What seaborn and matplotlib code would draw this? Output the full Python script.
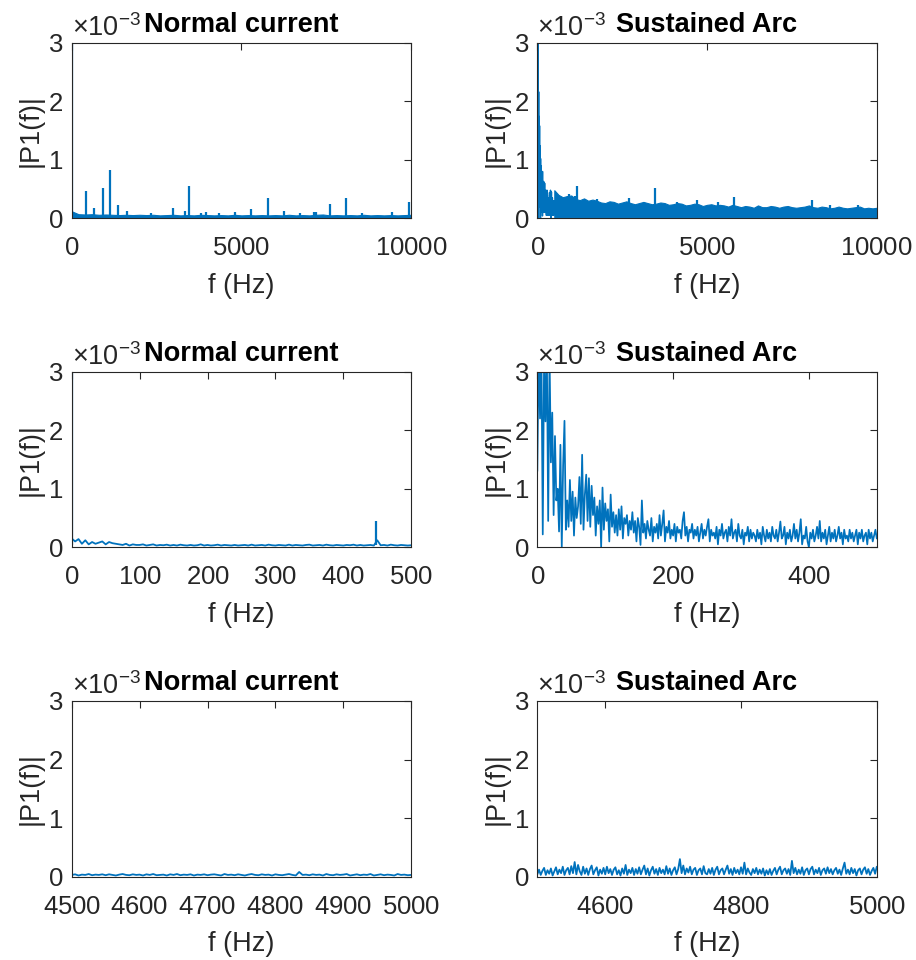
import numpy as np
import pandas as pd
import matplotlib
matplotlib.use("Agg")
import matplotlib.pyplot as plt
import seaborn as sns
from matplotlib.ticker import ScalarFormatter

# ---------------- data (amplitudes in units of 1e-3) ----------------
# Normal current, 0-10000 Hz: upper edge of the low noise floor (every 200 Hz)
normal_full_floor = [0.12, 0.07, 0.065, 0.07, 0.06, 0.065, 0.06, 0.055, 0.06, 0.055,
                     0.06, 0.055, 0.06, 0.05, 0.055, 0.06, 0.05, 0.055, 0.05, 0.06,
                     0.055, 0.05, 0.055, 0.05, 0.06, 0.05, 0.055, 0.05, 0.055, 0.05,
                     0.055, 0.05, 0.06, 0.05, 0.055, 0.05, 0.06, 0.065, 0.05, 0.055,
                     0.05, 0.055, 0.05, 0.06, 0.05, 0.055, 0.05, 0.055, 0.05, 0.055, 0.06]
normal_full_peak_f = [0, 433, 669, 914, 1141, 1357, 1622, 2330, 2989, 3333, 3451, 3805, 3943,
                      4336, 4808, 5290, 5772, 6254, 6726, 7149, 7200, 7611, 8083, 8564,
                      9440, 9921]
normal_full_peak_a = [3.2, 0.47, 0.18, 0.52, 0.83, 0.23, 0.12, 0.085, 0.17, 0.13, 0.56, 0.085, 0.11,
                      0.085, 0.10, 0.16, 0.35, 0.125, 0.09, 0.10, 0.10, 0.25, 0.35, 0.09,
                      0.10, 0.28]

# Sustained arc, 0-500 Hz (every 2 Hz)
arc_low = [1.30, 3.40, 2.20, 3.40, 0.22, 3.30, 2.15, 3.40, 0.45, 3.30,
           1.45, 2.30, 0.55, 1.90, 0.80, 1.00, 0.27, 1.75, 0.00, 1.40,
           2.16, 0.30, 0.80, 0.35, 1.15, 0.45, 0.95, 0.20, 0.85, 0.50,
           0.70, 1.20, 0.40, 1.58, 0.30, 0.90, 1.24, 0.45, 1.18, 0.35,
           1.05, 0.55, 0.85, 0.20, 0.70, 0.40, 0.80, 0.00, 1.02, 0.30,
           0.75, 0.45, 0.65, 0.10, 0.90, 0.35, 0.60, 0.25, 0.55, 0.20,
           0.65, 0.30, 0.70, 0.15, 0.50, 0.40, 0.55, 0.20, 0.45, 0.30,
           0.60, 0.25, 0.45, 0.10, 0.50, 0.35, 0.04, 0.80, 0.25, 0.40,
           0.15, 0.45, 0.30, 0.20, 0.50, 0.10, 0.35, 0.25, 0.40, 0.15,
           0.55, 0.20, 0.40, 0.63, 0.10, 0.35, 0.25, 0.45, 0.15, 0.30,
           0.20, 0.40, 0.10, 0.35, 0.25, 0.30, 0.15, 0.45, 0.60, 0.20,
           0.35, 0.10, 0.30, 0.25, 0.40, 0.15, 0.30, 0.20, 0.35, 0.10,
           0.25, 0.40, 0.15, 0.30, 0.20, 0.35, 0.48, 0.10, 0.30, 0.20,
           0.25, 0.15, 0.35, 0.05, 0.30, 0.20, 0.40, 0.15, 0.25, 0.30,
           0.10, 0.35, 0.20, 0.48, 0.15, 0.25, 0.30, 0.10, 0.40, 0.20,
           0.15, 0.30, 0.05, 0.25, 0.20, 0.35, 0.10, 0.30, 0.15, 0.25,
           0.20, 0.10, 0.30, 0.15, 0.25, 0.05, 0.35, 0.20, 0.10, 0.30,
           0.15, 0.25, 0.10, 0.35, 0.20, 0.15, 0.30, 0.10, 0.25, 0.44,
           0.15, 0.20, 0.35, 0.05, 0.25, 0.15, 0.30, 0.10, 0.20, 0.40,
           0.15, 0.30, 0.10, 0.25, 0.48, 0.05, 0.20, 0.15, 0.35, 0.10,
           0.00, 0.25, 0.15, 0.30, 0.10, 0.20, 0.35, 0.15, 0.45, 0.10,
           0.25, 0.15, 0.30, 0.05, 0.20, 0.35, 0.10, 0.25, 0.15, 0.30,
           0.10, 0.20, 0.35, 0.15, 0.25, 0.05, 0.30, 0.15, 0.20, 0.10,
           0.30, 0.15, 0.25, 0.10, 0.20, 0.30, 0.05, 0.25, 0.15, 0.30,
           0.10, 0.20, 0.25, 0.05, 0.30, 0.15, 0.25, 0.10, 0.20, 0.30,
           0.15]

# Sustained arc, 500-10000 Hz: upper edge of the dense noise band (every 125 Hz)
arc_full_upper = [0.48, 0.40, 0.36, 0.38, 0.39, 0.33, 0.31, 0.34, 0.30, 0.32,
                  0.30, 0.27, 0.26, 0.29, 0.28, 0.25, 0.27, 0.29, 0.26, 0.24,
                  0.26, 0.28, 0.26, 0.24, 0.25, 0.27, 0.26, 0.23, 0.24, 0.26,
                  0.25, 0.22, 0.23, 0.25, 0.24, 0.21, 0.23, 0.24, 0.22, 0.23,
                  0.22, 0.20, 0.23, 0.21, 0.19, 0.21, 0.20, 0.18, 0.22, 0.19,
                  0.19, 0.21, 0.20, 0.18, 0.20, 0.21, 0.19, 0.18, 0.19, 0.20,
                  0.22, 0.19, 0.18, 0.20, 0.19, 0.17, 0.18, 0.20, 0.18, 0.17,
                  0.18, 0.19, 0.20, 0.17, 0.18, 0.17, 0.18]
arc_full_floor = 0.02
arc_full_peak_f = [922, 1108, 1157, 1745, 2696, 3470, 4118, 4706, 5314, 5784, 8098, 8608, 9461]
arc_full_peak_a = [0.42, 0.38, 0.55, 0.33, 0.34, 0.52, 0.27, 0.31, 0.28, 0.36, 0.31, 0.23, 0.22]

# Normal current, 0-500 Hz (every 5 Hz)
normal_low = [0.15, 0.10, 0.14, 0.06, 0.12, 0.05, 0.09, 0.06, 0.08, 0.10,
              0.05, 0.09, 0.07, 0.06, 0.05, 0.04, 0.06, 0.03, 0.05, 0.04,
              0.04, 0.05, 0.03, 0.04, 0.05, 0.03, 0.04, 0.035, 0.045, 0.03,
              0.04, 0.03, 0.045, 0.035, 0.03, 0.04, 0.03, 0.035, 0.05, 0.03,
              0.04, 0.03, 0.035, 0.045, 0.03, 0.04, 0.035, 0.03, 0.04, 0.03,
              0.035, 0.04, 0.03, 0.045, 0.03, 0.035, 0.04, 0.03, 0.045, 0.035,
              0.03, 0.04, 0.035, 0.03, 0.045, 0.03, 0.04, 0.035, 0.03, 0.04,
              0.045, 0.03, 0.035, 0.04, 0.03, 0.045, 0.035, 0.03, 0.04, 0.035,
              0.03, 0.04, 0.035, 0.045, 0.03, 0.04, 0.03, 0.035, 0.04, 0.03,
              0.12, 0.035, 0.04, 0.03, 0.045, 0.035, 0.03, 0.04, 0.035, 0.03,
              0.035]
normal_low_peak_f = [0, 448]
normal_low_peak_a = [3.2, 0.455]

# Sustained arc, 4500-5000 Hz (every 2.5 Hz)
arc_mid = [0.04, 0.12, 0.03, 0.10, 0.15, 0.03, 0.11, 0.05, 0.14, 0.02,
           0.09, 0.16, 0.04, 0.12, 0.06, 0.17, 0.03, 0.11, 0.15, 0.04,
           0.18, 0.06, 0.25, 0.04, 0.20, 0.09, 0.03, 0.17, 0.05, 0.14,
           0.03, 0.13, 0.19, 0.04, 0.11, 0.16, 0.02, 0.12, 0.05, 0.15,
           0.04, 0.17, 0.06, 0.13, 0.03, 0.12, 0.16, 0.04, 0.11, 0.02,
           0.14, 0.05, 0.20, 0.03, 0.12, 0.06, 0.15, 0.03, 0.13, 0.05,
           0.16, 0.04, 0.12, 0.19, 0.04, 0.14, 0.02, 0.11, 0.17, 0.05,
           0.13, 0.03, 0.15, 0.06, 0.12, 0.04, 0.18, 0.05, 0.14, 0.03,
           0.11, 0.16, 0.04, 0.13, 0.30, 0.06, 0.19, 0.04, 0.14, 0.07,
           0.17, 0.04, 0.12, 0.15, 0.03, 0.11, 0.14, 0.04, 0.18, 0.06,
           0.04, 0.13, 0.05, 0.15, 0.03, 0.12, 0.17, 0.04, 0.11, 0.14,
           0.04, 0.12, 0.19, 0.05, 0.13, 0.03, 0.15, 0.06, 0.12, 0.04,
           0.16, 0.05, 0.24, 0.04, 0.14, 0.07, 0.03, 0.13, 0.06, 0.15,
           0.04, 0.12, 0.05, 0.14, 0.02, 0.11, 0.04, 0.13, 0.03, 0.10,
           0.15, 0.04, 0.12, 0.17, 0.04, 0.11, 0.14, 0.05, 0.13, 0.03,
           0.27, 0.06, 0.15, 0.04, 0.12, 0.05, 0.16, 0.03, 0.11, 0.14,
           0.04, 0.13, 0.17, 0.04, 0.12, 0.06, 0.15, 0.03, 0.11, 0.14,
           0.05, 0.16, 0.06, 0.13, 0.04, 0.11, 0.15, 0.05, 0.12, 0.03,
           0.14, 0.24, 0.05, 0.12, 0.04, 0.15, 0.06, 0.13, 0.02, 0.11,
           0.14, 0.04, 0.12, 0.16, 0.05, 0.13, 0.03, 0.10, 0.15, 0.05,
           0.17]

# Normal current, 4500-5000 Hz (every 5 Hz)
normal_mid = [0.03, 0.04, 0.02, 0.035, 0.03, 0.045, 0.025, 0.035, 0.03, 0.04,
              0.025, 0.04, 0.03, 0.02, 0.035, 0.045, 0.03, 0.025, 0.04, 0.03,
              0.035, 0.02, 0.04, 0.03, 0.045, 0.025, 0.03, 0.035, 0.02, 0.04,
              0.03, 0.045, 0.025, 0.035, 0.03, 0.04, 0.02, 0.035, 0.03, 0.04,
              0.025, 0.035, 0.04, 0.03, 0.02, 0.045, 0.03, 0.035, 0.025, 0.04,
              0.03, 0.02, 0.035, 0.045, 0.03, 0.025, 0.04, 0.03, 0.035, 0.02,
              0.04, 0.03, 0.025, 0.035, 0.045, 0.03, 0.02, 0.08, 0.03, 0.035,
              0.025, 0.04, 0.03, 0.035, 0.02, 0.045, 0.03, 0.025, 0.04, 0.03,
              0.035, 0.045, 0.02, 0.03, 0.04, 0.025, 0.035, 0.03, 0.045, 0.02,
              0.03, 0.04, 0.025, 0.035, 0.03, 0.02, 0.045, 0.03, 0.035, 0.025,
              0.03]

titles = ["Normal current", "Sustained Arc"]
SCALE = 1e-3

# ---------------- style ----------------
sns.set_theme(style="white")
plt.rcParams['font.family'] = ['Liberation Sans', 'DejaVu Sans']
plt.rcParams['mathtext.fontset'] = 'custom'
plt.rcParams['mathtext.rm'] = 'Liberation Sans'
plt.rcParams['mathtext.it'] = 'Liberation Sans:italic'
plt.rcParams['mathtext.bf'] = 'Liberation Sans:bold'
plt.rcParams['axes.formatter.use_mathtext'] = True

BLUE = '#0072BD'
AXC = '#262626'
TICK_FS = 18.5
LAB_FS = 19.5

fig = plt.figure(figsize=(9.16, 9.6), dpi=100)
lefts = [0.0783, 0.5866]
bottoms = [0.7726, 0.4299, 0.0868]
W, H = 0.3706, 0.1830
axes = [[fig.add_axes([l, b, W, H]) for l in lefts] for b in bottoms]


def style(ax, xlim, xticks, title):
    ax.set_xlim(*xlim)
    ax.set_ylim(0, 3e-3)
    ax.set_xticks(xticks)
    ax.set_yticks([0, 1e-3, 2e-3, 3e-3])
    fmt = ScalarFormatter(useMathText=True)
    fmt.set_powerlimits((0, 0))
    ax.yaxis.set_major_formatter(fmt)
    xf = ScalarFormatter(useOffset=False)
    ax.xaxis.set_major_formatter(xf)
    ax.tick_params(direction='in', length=5, width=0.8, top=True, right=True,
                   labelsize=TICK_FS, color=AXC, labelcolor=AXC)
    ax.tick_params(axis='x', pad=13)
    ax.tick_params(axis='y', pad=6)
    for s in ax.spines.values():
        s.set_visible(True)
        s.set_color(AXC)
        s.set_linewidth(0.8)
    ax.set_xlabel('f (Hz)', fontsize=LAB_FS, color=AXC, labelpad=9)
    ax.set_ylabel('|P1(f)|', fontsize=LAB_FS, color=AXC, labelpad=3)
    ax.set_title(title, fontsize=LAB_FS, fontweight='bold', color='black', y=1.0, pad=8)
    ax.yaxis.OFFSETTEXTPAD = 5
    ot = ax.yaxis.get_offset_text()
    ot.set_fontsize(19.5)
    ot.set_color(AXC)


def line(ax, f, v, lw=1.0):
    df = pd.DataFrame({'f': f, 'P': np.asarray(v) * SCALE})
    sns.lineplot(data=df, x='f', y='P', ax=ax, color=BLUE, linewidth=lw,
                 estimator=None, sort=False)


def spikes(ax, f, a, base):
    ax.vlines(f, base * SCALE, np.asarray(a) * SCALE, color=BLUE, linewidth=1.6)


# Row 1 left: normal, full band
ax = axes[0][0]
f = np.linspace(0, 10000, len(normal_full_floor))
ax.fill_between(f, 0.005 * SCALE, np.asarray(normal_full_floor) * SCALE, color=BLUE, lw=0.8)
spikes(ax, normal_full_peak_f, normal_full_peak_a, 0.04)
style(ax, (0, 10000), [0, 5000, 10000], titles[0])

# Row 1 right: arc, full band
ax = axes[0][1]
f_low = np.linspace(0, 500, len(arc_low))
line(ax, f_low, arc_low)
f = np.linspace(500, 10000, len(arc_full_upper))
ax.fill_between(f, arc_full_floor * SCALE, np.asarray(arc_full_upper) * SCALE, color=BLUE, lw=0.8)
spikes(ax, arc_full_peak_f, arc_full_peak_a, 0.1)
style(ax, (0, 10000), [0, 5000, 10000], titles[1])

# Row 2 left: normal, 0-500
ax = axes[1][0]
line(ax, np.linspace(0, 500, len(normal_low)), normal_low, lw=1.3)
spikes(ax, normal_low_peak_f, normal_low_peak_a, 0.04)
style(ax, (0, 500), [0, 100, 200, 300, 400, 500], titles[0])

# Row 2 right: arc, 0-500
ax = axes[1][1]
line(ax, f_low, arc_low, lw=1.25)
style(ax, (0, 500), [0, 200, 400], titles[1])

# Row 3 left: normal, 4500-5000
ax = axes[2][0]
line(ax, np.linspace(4500, 5000, len(normal_mid)), normal_mid, lw=1.3)
style(ax, (4500, 5000), [4500, 4600, 4700, 4800, 4900, 5000], titles[0])

# Row 3 right: arc, 4500-5000
ax = axes[2][1]
line(ax, np.linspace(4500, 5000, len(arc_mid)), arc_mid, lw=1.3)
style(ax, (4500, 5000), [4600, 4800, 5000], titles[1])

fig.savefig('out.png', dpi=100)
